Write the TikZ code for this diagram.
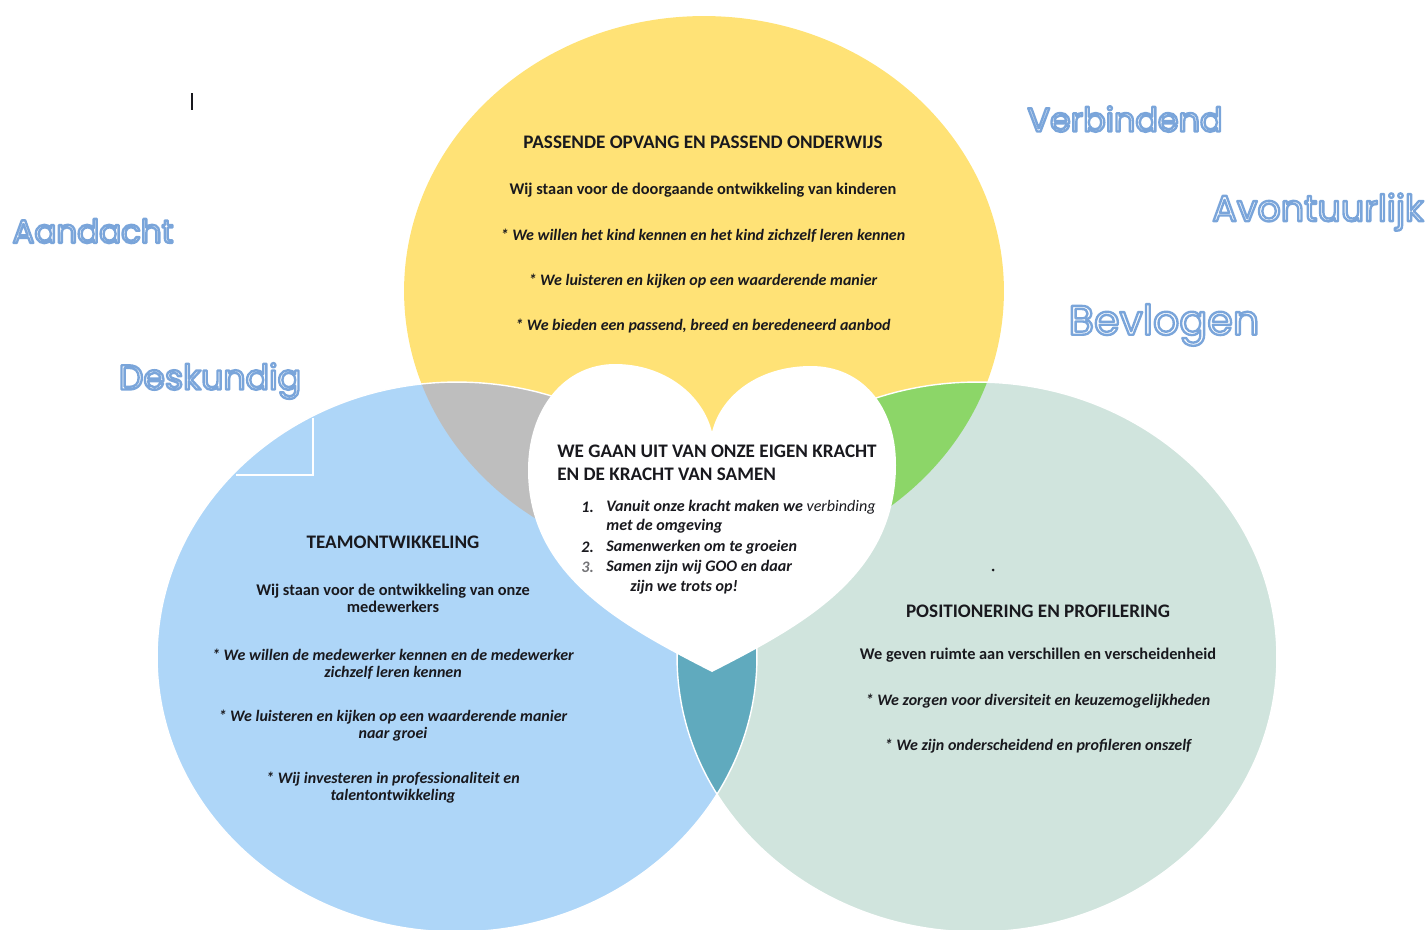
\documentclass[tikz,border=0pt]{standalone}
\usepackage{fontspec}
\setmainfont{Carlito}
\newfontfamily\wordfont{Poppins}
\newcommand{\outlined}[1]{\special{pdf:literal direct 0.478 0.647 0.855 RG 1 1 1 rg 2 Tr 1.35 w 1 j}#1\special{pdf:literal direct 0 Tr 0 0 0 RG}}
\definecolor{vyellow}{RGB}{255,226,118}
\definecolor{vblue}{RGB}{174,214,248}
\definecolor{vmint}{RGB}{208,228,221}
\definecolor{vgray}{RGB}{190,190,190}
\definecolor{vgreen}{RGB}{140,214,104}
\definecolor{vteal}{RGB}{96,170,190}
\definecolor{ink}{RGB}{25,25,30}
\begin{document}
\begin{tikzpicture}
    [
    x=0.02cm, y=-0.02cm,
    title/.style={font=\fontsize{10.9}{12}\selectfont\bfseries, text=ink},
    lead/.style={font=\fontsize{9.3}{9.8}\selectfont\bfseries, text=ink, align=center},
    bullet/.style={font=\fontsize{9.1}{9.8}\selectfont\bfseries\itshape, text=ink, align=center},
    item/.style={font=\fontsize{9.15}{10}\selectfont\bfseries\itshape, text=ink, anchor=west, inner sep=0pt},
    word/.style={font=\wordfont\fontsize{19}{22}\selectfont, text=white},
    rim/.style={draw=white, line width=0.8pt}
    ]
    \useasboundingbox (0,0) rectangle (1428,930);

    % the three circles
    \fill[vyellow] (704,291) ellipse [x radius=6cm, y radius=5.5cm];
    \fill[vblue] (457,657) ellipse [x radius=6cm, y radius=5.5cm];
    \fill[vmint] (977,657) ellipse [x radius=6cm, y radius=5.5cm];
    \begin{scope}
      \clip (704,291) ellipse [x radius=6cm, y radius=5.5cm];
      \fill[vgray] (457,657) ellipse [x radius=6cm, y radius=5.5cm];
      \fill[vgreen] (977,657) ellipse [x radius=6cm, y radius=5.5cm];
    \end{scope}
    \begin{scope}
      \clip (457,657) ellipse [x radius=6cm, y radius=5.5cm];
      \fill[vteal] (977,657) ellipse [x radius=6cm, y radius=5.5cm];
    \end{scope}
    \draw[rim] (977,657) ellipse [x radius=6cm, y radius=5.5cm];
    \draw[rim] (457,657) ellipse [x radius=6cm, y radius=5.5cm];
    \draw[white, line width=0.6pt] (313,418) -- (313,475) -- (236,475);

    % the heart
    \fill[white] (712,672)
      .. controls (620,625) and (528,575) .. (528,470)
      .. controls (528,408) and (565,364) .. (615,364)
      .. controls (665,364) and (703,395) .. (712,432)
      .. controls (721,395) and (759,366) .. (811,366)
      .. controls (861,366) and (896,405) .. (896,465)
      .. controls (896,575) and (804,625) .. (712,672) -- cycle;

    % top circle
    \node (ytitle) at (703,142) [title] {PASSENDE OPVANG EN PASSEND ONDERWIJS};
    \node (ylead) at (703,190) [lead] {Wij staan voor de doorgaande ontwikkeling van kinderen};
    \node (yb1) at (703,236) [bullet] {* We willen het kind kennen en het kind zichzelf leren kennen};
    \node (yb2) at (703,281) [bullet] {* We luisteren en kijken op een waarderende manier};
    \node (yb3) at (703,326) [bullet] {* We bieden een passend, breed en beredeneerd aanbod};

    % left circle
    \node (btitle) at (393,542) [title] {TEAMONTWIKKELING};
    \node (blead) at (393,598) [lead] {Wij staan voor de ontwikkeling van onze\\medewerkers};
    \node (bb1) at (393,664) [bullet] {* We willen de medewerker kennen en de medewerker\\zichzelf leren kennen};
    \node (bb2) at (393,726) [bullet] {* We luisteren en kijken op een waarderende manier\\naar groei};
    \node (bb3) at (393,788) [bullet] {* Wij investeren in professionaliteit en\\talentontwikkeling};

    % right circle
    \node (mtitle) at (1038,611) [title] {POSITIONERING EN PROFILERING};
    \node (mlead) at (1038,655) [lead] {We geven ruimte aan verschillen en verscheidenheid};
    \node (mb1) at (1038,701) [bullet] {* We zorgen voor diversiteit en keuzemogelijkheden};
    \node (mb2) at (1038,746) [bullet] {* We zijn onderscheidend en profileren onszelf};
    \fill[ink] (993,570) circle (1.5);

    % heart text
    \node (htitle) at (557,463) [anchor=west, inner sep=0pt, align=left, text=ink,
      font=\fontsize{10.9}{13}\selectfont\bfseries] {WE GAAN UIT VAN ONZE EIGEN KRACHT\\EN DE KRACHT VAN SAMEN};
    \node (n1) at (581,507) [item] {1.};
    \node (h1) at (606,507) [item] {Vanuit onze kracht maken we \textmd{verbinding}};
    \node (h1b) at (606,526) [item] {met de omgeving};
    \node (n2) at (581,547) [item] {2.};
    \node (h2) at (606,547) [item] {Samenwerken om te groeien};
    \node (n3) at (581,567) [item, text=ink!60] {3.};
    \node (h3) at (606,567) [item] {Samen zijn wij GOO en daar};
    \node (h3b) at (630,587) [item] {zijn we trots op!};

    % outlined words
    \node (verb) at (1125,119) [word] {\outlined{Verbindend}};
    \node (avon) at (1318,212) [word, font=\wordfont\fontsize{20.8}{24}\selectfont] {\outlined{Avontuurlijk}};
    \node (aand) at (93,231) [word, font=\wordfont\fontsize{18.5}{22}\selectfont] {\outlined{Aandacht}};
    \node (bevl) at (1164,325) [word, font=\wordfont\fontsize{23.5}{28}\selectfont] {\outlined{Bevlogen}};
    \node (desk) at (210,381) [word, font=\wordfont\fontsize{19.8}{24}\selectfont] {\outlined{Deskundig}};
    \draw[ink, line width=0.9pt] (192,93) -- (192,110);
\end{tikzpicture}
\end{document}
